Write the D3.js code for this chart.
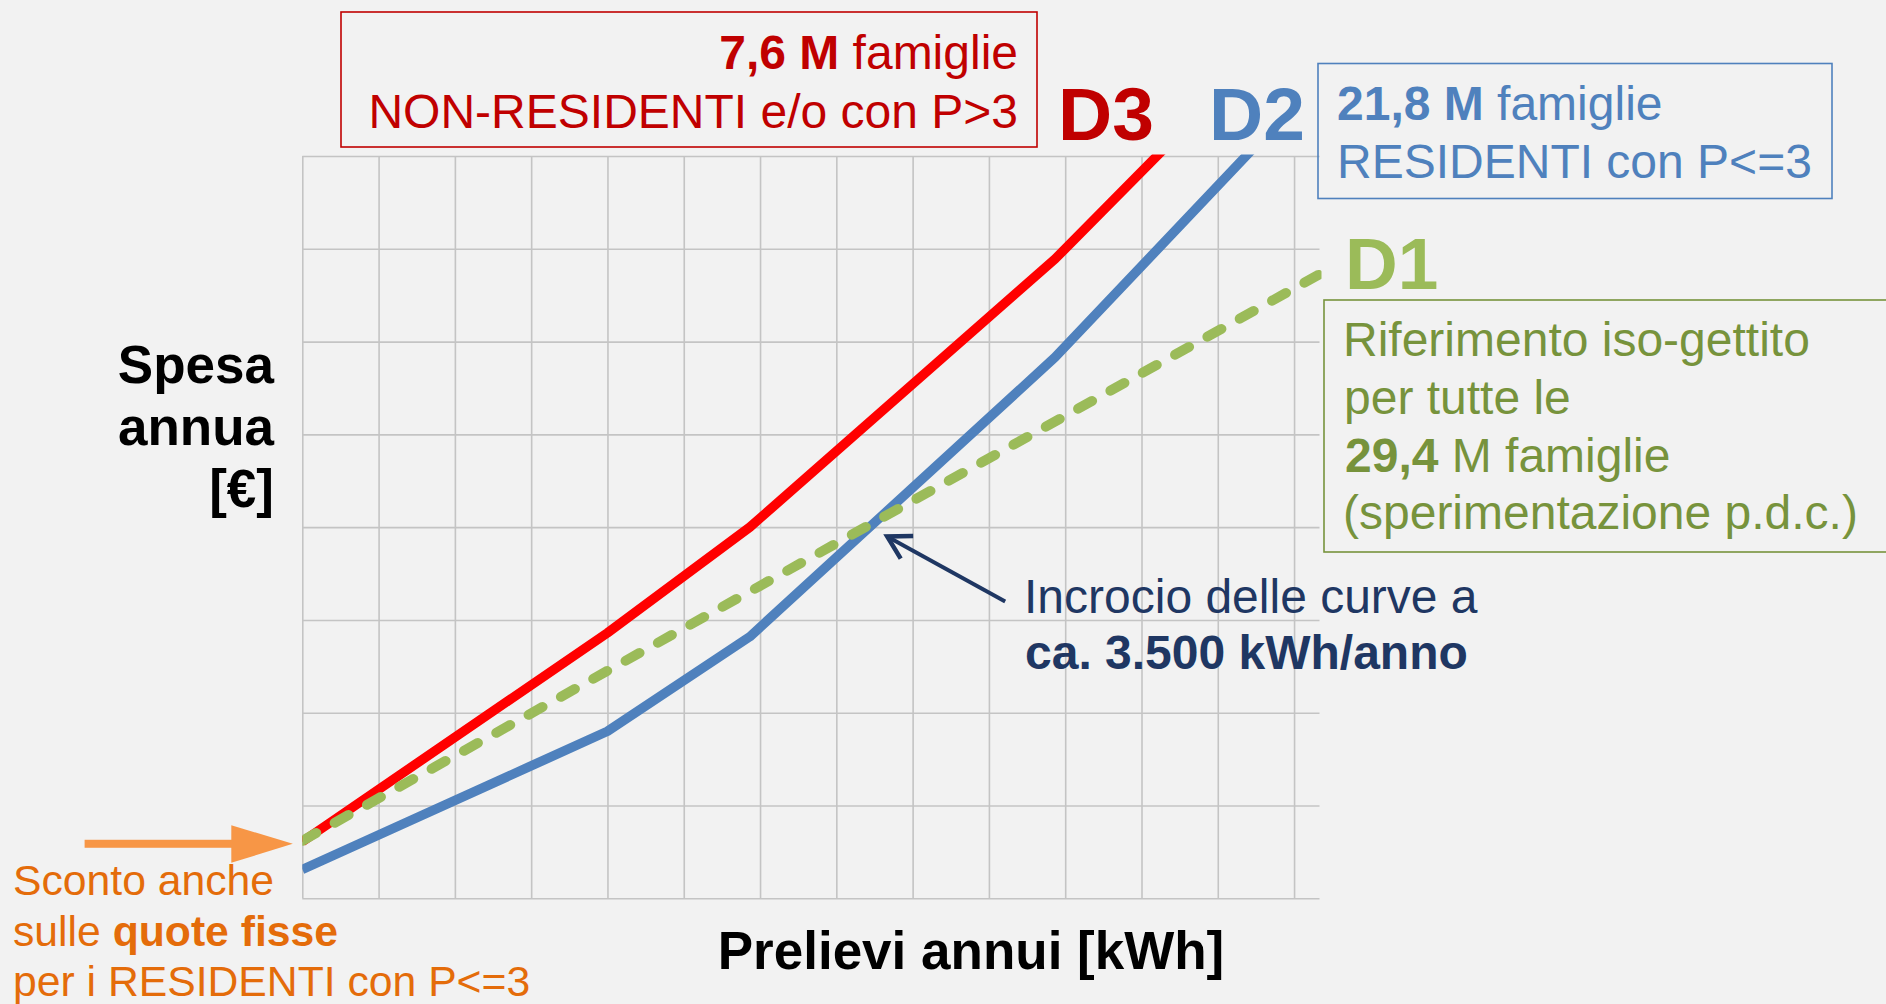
<!DOCTYPE html>
<html><head><meta charset="utf-8">
<script src="https://cdn.jsdelivr.net/npm/d3@7"></script>
<style>
html,body{margin:0;padding:0;background:#f2f2f2;}
svg{display:block;}
text{font-family:"Liberation Sans",Arial,Helvetica,sans-serif;}
</style>
</head><body>
<svg id="chart" width="1886" height="1004"></svg>
<script>
// ---- data (annual withdrawals kWh -> annual spending €) ----
const kwhD3 = [0, 1800, 2640, 4440, 6000];
const spesaD3 = [122, 572, 800, 1378, 1954];
const kwhD2 = [0, 1800, 2640, 4440, 6000];
const spesaD2 = [62, 360, 564, 1166, 1767];
const kwhD1 = [0, 6000];
const spesaD1 = [124, 1345];
const xGridTicks = d3.range(0, 6000, 450);
const yGridTicks = d3.range(0, 1601, 200);
const xDomain = [0, 6000];
const yDomain = [0, 1600];
const crossKwh = 3450, crossSpesa = 780;

const svg = d3.select("#chart");
svg.append("rect").attr("width",1886).attr("height",1004).attr("fill","#f2f2f2");

const x = d3.scaleLinear().domain(xDomain).range([302.3, 1319.5]);
const y = d3.scaleLinear().domain(yDomain).range([898.3, 156]);

// grid via axes
const gridColor = "#c4c4c4";
const gy = svg.append("g").attr("transform", `translate(${x(0)},0)`)
  .call(d3.axisLeft(y).tickValues(yGridTicks).tickSize(-(x(6000)-x(0))).tickFormat(""));
const gx = svg.append("g").attr("transform", `translate(0,${y(0)})`)
  .call(d3.axisBottom(x).tickValues(xGridTicks).tickSize(-(y(0)-y(1600))).tickFormat(""));
[gx, gy].forEach(g => {
  g.select(".domain").remove();
  g.selectAll(".tick line").attr("stroke", gridColor).attr("stroke-width", 1.6);
});

// clip
svg.append("clipPath").attr("id","plotclip").append("rect")
  .attr("x", x(0)).attr("y", y(1600)-1.5).attr("width", x(6000)-x(0)+2).attr("height", y(0)-y(1600)+1.5);

const line = d3.line().x(d=>x(d[0])).y(d=>y(d[1]));
const plot = svg.append("g").attr("clip-path","url(#plotclip)");
plot.append("path").datum(d3.zip(kwhD2, spesaD2)).attr("d", line)
  .attr("fill","none").attr("stroke","#4f81bd").attr("stroke-width",9.5).attr("stroke-linejoin","round");
plot.append("path").datum(d3.zip(kwhD3, spesaD3)).attr("d", line)
  .attr("fill","none").attr("stroke","#ff0000").attr("stroke-width",9.5).attr("stroke-linejoin","round");
plot.append("path").datum(d3.zip(kwhD1, spesaD1)).attr("d", line)
  .attr("fill","none").attr("stroke","#9bbb59").attr("stroke-width",10)
  .attr("stroke-linecap","round").attr("stroke-dasharray","16 21");

// helper for multi-style text
function rich(g, xPos, yPos, parts, size, color, anchor) {
  const t = g.append("text").attr("x", xPos).attr("y", yPos)
    .attr("font-size", size).attr("fill", color).attr("text-anchor", anchor || "start");
  parts.forEach(p => t.append("tspan").attr("font-weight", p[1] ? "bold" : "normal").text(p[0]));
  return t;
}

// D3 box
svg.append("rect").attr("x",341).attr("y",12).attr("width",696).attr("height",135)
  .attr("fill","none").attr("stroke","#c00000").attr("stroke-width",1.6);
rich(svg, 1018, 68.5, [["7,6 M",true],[" famiglie",false]], 48, "#c00000", "end");
rich(svg, 1018, 127.5, [["NON-RESIDENTI e/o con P>3",false]], 48, "#c00000", "end");

// D2 box
svg.append("rect").attr("x",1318).attr("y",63.5).attr("width",514).attr("height",135)
  .attr("fill","none").attr("stroke","#4f81bd").attr("stroke-width",1.6);
rich(svg, 1337, 120, [["21,8 M",true],[" famiglie",false]], 48, "#4f81bd");
rich(svg, 1337, 177.5, [["RESIDENTI con P<=3",false]], 48, "#4f81bd");

// D1 box
svg.append("rect").attr("x",1324).attr("y",300).attr("width",580).attr("height",252)
  .attr("fill","none").attr("stroke","#77933c").attr("stroke-width",1.6);
const gcol = "#77933c";
rich(svg, 1343, 356, [["Riferimento iso-gettito",false]], 48, gcol);
rich(svg, 1344, 414, [["per tutte le",false]], 48, gcol);
rich(svg, 1345, 471.5, [["29,4",true],[" M famiglie",false]], 48, gcol);
rich(svg, 1343, 529, [["(sperimentazione p.d.c.)",false]], 48, gcol);

// series labels
svg.append("text").attr("x",1058).attr("y",140).attr("font-size",75).attr("font-weight","bold").attr("fill","#c00000").text("D3");
svg.append("text").attr("x",1209).attr("y",140).attr("font-size",75).attr("font-weight","bold").attr("fill","#4f81bd").text("D2");
svg.append("text").attr("x",1345).attr("y",289).attr("font-size",73).attr("font-weight","bold").attr("fill","#9bbb59").text("D1");

// axis titles
const ylab = ["Spesa","annua","[€]"];
const ylabY = [383, 444.5, 506.5];
ylab.forEach((s,i) => svg.append("text").attr("x",274).attr("y",ylabY[i]).attr("text-anchor","end")
  .attr("font-size",53).attr("font-weight","bold").attr("fill","#000").text(s));
svg.append("text").attr("x",971).attr("y",969).attr("text-anchor","middle")
  .attr("font-size",53).attr("font-weight","bold").attr("fill","#000").text("Prelievi annui [kWh]");

// crossing annotation
const navy = "#1f3763";
const tipX = x(crossKwh), tipY = y(crossSpesa);
const tailX = tipX + 118, tailY = tipY + 65;
const ang = Math.atan2(tailY - tipY, tailX - tipX);
const armL = 26;
const a1 = [tipX + armL*Math.cos(ang - 0.52), tipY + armL*Math.sin(ang - 0.52)];
const a2 = [tipX + armL*Math.cos(ang + 0.52), tipY + armL*Math.sin(ang + 0.52)];
svg.append("path").attr("d", `M${tailX},${tailY}L${tipX+2*Math.cos(ang)},${tipY+2*Math.sin(ang)}`)
  .attr("stroke", navy).attr("stroke-width",4).attr("fill","none");
svg.append("path").attr("d", `M${a1[0]},${a1[1]}L${tipX},${tipY}L${a2[0]},${a2[1]}`)
  .attr("stroke", navy).attr("stroke-width",4.5).attr("fill","none").attr("stroke-linejoin","miter");
rich(svg, 1024, 613, [["Incrocio delle curve a",false]], 48, navy);
rich(svg, 1025, 669, [["ca. 3.500 kWh/anno",true]], 48, navy);

// orange arrow + note
const orange = "#f79646";
const oy = y(spesaD1[0]) + 3;
const otip = x(0) - 9.5;
svg.append("rect").attr("x",84.6).attr("y",oy-4).attr("width",otip-61.5-84.6+1).attr("height",8).attr("fill",orange);
svg.append("path").attr("d",`M${otip-61.5},${oy-18.5}L${otip},${oy}L${otip-61.5},${oy+19}Z`).attr("fill",orange);
const ocol = "#e46c0a";
rich(svg, 13, 895, [["Sconto anche",false]], 42.7, ocol);
rich(svg, 13, 946, [["sulle ",false],["quote fisse",true]], 42.7, ocol);
rich(svg, 13, 996, [["per i RESIDENTI con P<=3",false]], 42.7, ocol);
</script>
</body></html>
